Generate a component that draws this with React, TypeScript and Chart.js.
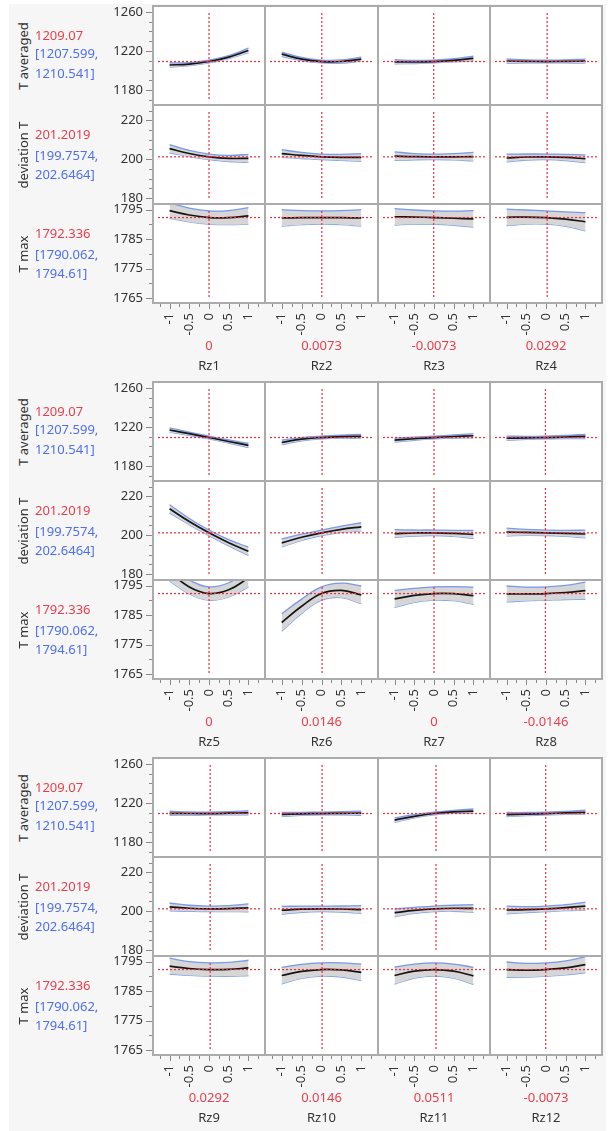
import React, { useEffect, useRef } from 'react';
import { Chart, registerables } from 'chart.js';

Chart.register(...registerables);

// ---------------- data ----------------
const factorNames = ['Rz1', 'Rz2', 'Rz3', 'Rz4', 'Rz5', 'Rz6', 'Rz7', 'Rz8', 'Rz9', 'Rz10', 'Rz11', 'Rz12'];
const factorSettings = [0, 0.0073, -0.0073, 0.0292, 0, 0.0146, 0, -0.0146, 0.0292, 0.0146, 0.0511, -0.0073];
const factorSettingLabels = ['0', '0.0073', '-0.0073', '0.0292', '0', '0.0146', '0', '-0.0146', '0.0292', '0.0146', '0.0511', '-0.0073'];

const responseNames = ['T averaged', 'deviation T', 'T max'];
const predictedValues = [1209.07, 201.2019, 1792.336];
const predictedLabels = ['1209.07', '201.2019', '1792.336'];
const intervalLowerLabels = ['[1207.599,', '[199.7574,', '[1790.062,'];
const intervalUpperLabels = ['1210.541]', '202.6464]', '1794.61]'];

const xGrid = [-1, -0.5, 0, 0.5, 1];
const xMajorTicks = [-1, -0.5, 0, 0.5, 1];
const xMinorTicks = [-1.25, -0.75, -0.25, 0.25, 0.75, 1.25];

const tAveragedMajorTicks = [1180, 1220, 1260];
const tAveragedMinorTicks = [1170, 1190, 1200, 1210, 1230, 1240, 1250];
const deviationMajorTicks = [180, 200, 220];
const deviationMinorTicks = [185, 190, 195, 205, 210, 215, 225];
const tMaxMajorTicks = [1765, 1775, 1785, 1795];
const tMaxMinorTicks = [1770, 1780, 1790];

// profile traces at x = -1, -0.5, 0, 0.5, 1 (one row per factor)
const tAveragedProfile = [
  [1205.5, 1206.4, 1209.07, 1213.6, 1220.4],
  [1216.6, 1211.6, 1209.07, 1209.1, 1211.5],
  [1208.8, 1208.6, 1209.07, 1210.3, 1212.3],
  [1209.6, 1209.2, 1209.07, 1209.2, 1209.5],
  [1216.8, 1213.0, 1209.07, 1205.0, 1201.0],
  [1204.0, 1207.4, 1209.07, 1210.0, 1210.3],
  [1206.4, 1207.8, 1209.07, 1210.1, 1210.9],
  [1208.4, 1208.7, 1209.07, 1209.6, 1210.2],
  [1209.3, 1209.1, 1209.07, 1209.4, 1209.8],
  [1208.2, 1208.7, 1209.07, 1209.3, 1209.4],
  [1202.3, 1206.2, 1209.07, 1210.8, 1211.5],
  [1208.0, 1208.5, 1209.07, 1209.7, 1210.4],
];
const deviationProfile = [
  [205.4, 202.9, 201.2, 200.4, 200.4],
  [202.9, 201.9, 201.2, 200.9, 200.9],
  [201.6, 201.3, 201.2, 201.2, 201.3],
  [200.6, 201.1, 201.2, 200.9, 200.2],
  [213.6, 207.0, 201.2, 196.1, 191.7],
  [196.0, 198.9, 201.2, 203.0, 204.3],
  [200.8, 201.1, 201.2, 200.9, 200.4],
  [201.6, 201.4, 201.2, 200.9, 200.6],
  [202.2, 201.5, 201.2, 201.3, 201.7],
  [200.5, 201.0, 201.2, 201.1, 200.8],
  [199.2, 200.4, 201.2, 201.5, 201.4],
  [200.6, 200.8, 201.2, 201.8, 202.6],
];
const tMaxProfile = [
  [1794.7, 1793.2, 1792.34, 1792.3, 1792.9],
  [1792.2, 1792.3, 1792.34, 1792.3, 1792.2],
  [1792.6, 1792.5, 1792.34, 1792.1, 1791.9],
  [1792.4, 1792.5, 1792.34, 1791.8, 1790.9],
  [1799.6, 1794.6, 1792.34, 1793.6, 1797.6],
  [1782.5, 1788.0, 1792.34, 1793.4, 1791.9],
  [1790.5, 1791.7, 1792.34, 1792.3, 1791.6],
  [1792.2, 1792.2, 1792.34, 1792.7, 1793.3],
  [1793.5, 1792.7, 1792.34, 1792.4, 1792.9],
  [1790.3, 1791.7, 1792.34, 1792.2, 1791.4],
  [1790.3, 1791.8, 1792.34, 1791.8, 1790.2],
  [1792.3, 1792.1, 1792.34, 1792.9, 1794.0],
];

// confidence half widths at the same x positions
const tAveragedHalfWidth = [
  [2.2, 1.6, 1.47, 1.65, 2.3],
  [2.2, 1.6, 1.47, 1.6, 2.1],
  [2.1, 1.6, 1.47, 1.6, 2.2],
  [2.1, 1.6, 1.47, 1.6, 2.1],
  [2.2, 1.6, 1.47, 1.6, 2.2],
  [2.3, 1.65, 1.47, 1.6, 2.1],
  [2.1, 1.6, 1.47, 1.6, 2.1],
  [2.1, 1.6, 1.47, 1.6, 2.2],
  [2.1, 1.6, 1.47, 1.6, 2.1],
  [2.1, 1.6, 1.47, 1.6, 2.1],
  [2.3, 1.65, 1.47, 1.6, 2.2],
  [2.1, 1.6, 1.47, 1.6, 2.2],
];
const deviationHalfWidth = [
  [2.1, 1.6, 1.44, 1.6, 2.1],
  [2.0, 1.55, 1.44, 1.55, 2.0],
  [2.2, 1.6, 1.44, 1.6, 2.2],
  [2.0, 1.55, 1.44, 1.6, 2.0],
  [2.1, 1.6, 1.44, 1.6, 2.1],
  [2.1, 1.6, 1.44, 1.6, 2.1],
  [2.0, 1.55, 1.44, 1.55, 2.0],
  [2.0, 1.55, 1.44, 1.55, 2.0],
  [2.0, 1.55, 1.44, 1.55, 2.0],
  [2.0, 1.55, 1.44, 1.55, 2.0],
  [2.0, 1.55, 1.44, 1.55, 2.0],
  [2.0, 1.55, 1.44, 1.55, 2.1],
];
const tMaxHalfWidth = [
  [2.6, 2.35, 2.27, 2.4, 2.8],
  [2.8, 2.4, 2.27, 2.4, 2.8],
  [2.8, 2.4, 2.27, 2.4, 2.8],
  [2.8, 2.4, 2.27, 2.45, 3.1],
  [3.0, 2.4, 2.27, 2.4, 3.0],
  [3.0, 2.45, 2.27, 2.45, 3.0],
  [2.9, 2.4, 2.27, 2.4, 2.9],
  [2.7, 2.35, 2.27, 2.4, 2.9],
  [2.7, 2.35, 2.27, 2.35, 2.6],
  [2.8, 2.4, 2.27, 2.4, 2.8],
  [2.9, 2.4, 2.27, 2.4, 2.9],
  [2.6, 2.35, 2.27, 2.4, 2.7],
];

// ---------------- config / layout ----------------
const profiles = [tAveragedProfile, deviationProfile, tMaxProfile];
const halfWidths = [tAveragedHalfWidth, deviationHalfWidth, tMaxHalfWidth];
const yMajors = [tAveragedMajorTicks, deviationMajorTicks, tMaxMajorTicks];
const yMinors = [tAveragedMinorTicks, deviationMinorTicks, tMaxMinorTicks];
const Y_RANGES = [[1164.5, 1266], [176.9, 227.9], [1763.3, 1796.94]];
const X_RANGE = [-1.42, 1.42];

const COL_EDGES = [153, 265, 378, 490, 602];
const BLOCK_TOPS = [6, 382, 758];
const ROW_H = 99;
const PAD = 6;
const YW = 80;
const XH = 40;

const FONT = '"Noto Sans", "DejaVu Sans", sans-serif';
const TEXT = '#333333';
const RED_TEXT = '#ec3d4c';
const BLUE_TEXT = '#4d6ff0';
const RED_LINE = '#ee2b3a';
const FRAME = '#ababab';
const TICK = '#8a8a8a';
const BAND = '#d6d6d6';
const BAND_EDGE = 'rgba(100,140,235,0.85)';

Chart.defaults.font.family = FONT;
Chart.defaults.font.size = 13;
Chart.defaults.color = TEXT;

function Cell({ b, r, c }: { b: number; r: number; c: number }) {
  const ref = useRef<HTMLCanvasElement | null>(null);
  const f = b * 4 + c;
  const colW = COL_EDGES[c + 1] - COL_EDGES[c];
  const left = COL_EDGES[c] - PAD - (c === 0 ? YW : 0);
  const top = BLOCK_TOPS[b] + r * ROW_H - PAD;
  const w = colW + 2 * PAD + (c === 0 ? YW : 0);
  const h = ROW_H + 2 * PAD + (r === 2 ? XH : 0);

  useEffect(() => {
    const canvas = ref.current;
    if (!canvas) return;
    const mean = profiles[r][f];
    const hw = halfWidths[r][f];
    const meanPts = xGrid.map((x, i) => ({ x, y: mean[i] }));
    const upPts = xGrid.map((x, i) => ({ x, y: mean[i] + hw[i] }));
    const loPts = xGrid.map((x, i) => ({ x, y: mean[i] - hw[i] }));
    const yMaj = yMajors[r];
    const yMin = yMinors[r];
    const yTicks = [...yMaj, ...yMin].sort((a, z) => a - z);
    const xTicks = [...xMajorTicks, ...xMinorTicks].sort((a, z) => a - z);
    const showX = r === 2;
    const showY = c === 0;

    const decor = {
      id: 'cellDecor',
      beforeDraw(chart: any) {
        const { ctx, chartArea: a } = chart;
        ctx.save();
        ctx.fillStyle = '#ffffff';
        ctx.fillRect(a.left, a.top, a.right - a.left, a.bottom - a.top);
        ctx.restore();
      },
      afterDatasetsDraw(chart: any) {
        const { ctx, chartArea: a, scales } = chart;
        const px = scales.x.getPixelForValue(factorSettings[f]);
        const py = scales.y.getPixelForValue(predictedValues[r]);
        ctx.save();
        ctx.strokeStyle = RED_LINE;
        ctx.lineWidth = 1.2;
        ctx.setLineDash([2, 2]);
        ctx.beginPath();
        ctx.moveTo(px, a.top + 7);
        ctx.lineTo(px, a.bottom - 5);
        ctx.stroke();
        ctx.beginPath();
        ctx.moveTo(a.left + 5, py);
        ctx.lineTo(a.right - 5, py);
        ctx.stroke();
        ctx.restore();
      },
      afterDraw(chart: any) {
        const { ctx, chartArea: a, scales } = chart;
        ctx.save();
        ctx.strokeStyle = FRAME;
        ctx.lineWidth = 1;
        ctx.strokeRect(a.left + 0.5, a.top + 0.5, a.right - a.left - 1, a.bottom - a.top - 1);
        ctx.beginPath();
        if (c === 0) { ctx.moveTo(a.left - 0.5, a.top - 1); ctx.lineTo(a.left - 0.5, a.bottom + 1); }
        if (c === 3) { ctx.moveTo(a.right + 0.5, a.top - 1); ctx.lineTo(a.right + 0.5, a.bottom + 1); }
        if (r === 0) { ctx.moveTo(a.left - 1, a.top - 0.5); ctx.lineTo(a.right + 1, a.top - 0.5); }
        if (r === 2) { ctx.moveTo(a.left - 1, a.bottom + 0.5); ctx.lineTo(a.right + 1, a.bottom + 0.5); }
        ctx.stroke();
        ctx.strokeStyle = TICK;
        ctx.beginPath();
        if (showY) {
          yTicks.forEach((v) => {
            const py = Math.round(scales.y.getPixelForValue(v)) + 0.5;
            const len = yMaj.includes(v) ? 6 : 3;
            ctx.moveTo(a.left - 1 - len, py);
            ctx.lineTo(a.left - 1, py);
          });
        }
        if (showX) {
          xTicks.forEach((v) => {
            const px = Math.round(scales.x.getPixelForValue(v)) + 0.5;
            const len = xMajorTicks.includes(v) ? 5 : 3;
            ctx.moveTo(px, a.bottom + 1);
            ctx.lineTo(px, a.bottom + 1 + len);
          });
        }
        ctx.stroke();
        ctx.restore();
      },
    };

    const lineBase = { pointRadius: 0, tension: 0.4, clip: 0 as any };
    const chart = new Chart(canvas, {
      type: 'line',
      data: {
        datasets: [
          { ...lineBase, order: 1, data: upPts, borderColor: BAND_EDGE, borderWidth: 1.3, backgroundColor: BAND, fill: '+1' },
          { ...lineBase, order: 2, data: loPts, borderColor: BAND_EDGE, borderWidth: 1.3, fill: false },
          { ...lineBase, order: 0, data: meanPts, borderColor: '#151515', borderWidth: 1.7, fill: false },
        ],
      },
      options: {
        responsive: false,
        animation: false,
        events: [],
        layout: { padding: { left: PAD, right: PAD, top: PAD, bottom: PAD } },
        plugins: { legend: { display: false }, tooltip: { enabled: false }, title: { display: false } },
        scales: {
          x: {
            type: 'linear',
            min: X_RANGE[0],
            max: X_RANGE[1],
            display: showX,
            afterBuildTicks: (s: any) => { s.ticks = xTicks.map((v) => ({ value: v })); },
            afterFit: (s: any) => { s.height = showX ? XH : 0; s.paddingLeft = 0; s.paddingRight = 0; },
            grid: { drawOnChartArea: false, drawTicks: true, tickLength: 6, tickColor: 'rgba(0,0,0,0)' },
            border: { display: false },
            ticks: {
              autoSkip: false,
              minRotation: 90,
              maxRotation: 90,
              padding: 4,
              color: TEXT,
              font: { family: FONT, size: 13 },
              callback: (v: any) => (xMajorTicks.includes(Number(v)) ? String(v) : ''),
            },
          },
          y: {
            type: 'linear',
            min: Y_RANGES[r][0],
            max: Y_RANGES[r][1],
            display: showY,
            afterBuildTicks: (s: any) => { s.ticks = yTicks.map((v) => ({ value: v })); },
            afterFit: (s: any) => { s.width = showY ? YW : 0; s.paddingTop = 0; s.paddingBottom = 0; },
            grid: { drawOnChartArea: false, drawTicks: true, tickLength: 6, tickColor: 'rgba(0,0,0,0)' },
            border: { display: false },
            ticks: {
              autoSkip: false,
              padding: 4,
              color: TEXT,
              font: { family: FONT, size: 13 },
              callback: (v: any) => (yMaj.includes(Number(v)) ? String(v) : ''),
            },
          },
        },
      } as any,
      plugins: [decor],
    });
    return () => chart.destroy();
  }, [b, r, c, f]);

  return (
    <canvas
      ref={ref}
      width={w}
      height={h}
      style={{ position: 'absolute', left, top, width: w, height: h }}
    />
  );
}

const LABEL_OFFSETS = [
  [-21, -3, 17],
  [-20.5, 0.5, 19.5],
  [-20.5, 0.5, 19],
];

function BlockLabels({ b }: { b: number }) {
  const items: any[] = [];
  for (let r = 0; r < 3; r++) {
    const cy = BLOCK_TOPS[b] + r * ROW_H + ROW_H / 2;
    items.push(
      <div
        key={'n' + r}
        style={{
          position: 'absolute', left: 22.5, top: cy, transform: 'translate(-50%,-50%) rotate(-90deg)',
          whiteSpace: 'nowrap', color: TEXT, fontSize: 13, lineHeight: '16px', fontFamily: FONT,
        }}
      >
        {responseNames[r]}
      </div>
    );
    const texts = [predictedLabels[r], intervalLowerLabels[r], intervalUpperLabels[r]];
    const colors = [RED_TEXT, BLUE_TEXT, BLUE_TEXT];
    texts.forEach((t, i) => {
      items.push(
        <div
          key={'v' + r + '-' + i}
          style={{
            position: 'absolute', left: 35, top: cy + LABEL_OFFSETS[r][i] - 10, height: 20,
            lineHeight: '20px', whiteSpace: 'nowrap', color: colors[i], fontSize: 13, fontFamily: FONT,
          }}
        >
          {t}
        </div>
      );
    });
  }
  const bottom = BLOCK_TOPS[b] + 3 * ROW_H;
  for (let c = 0; c < 4; c++) {
    const f = b * 4 + c;
    const cx = (COL_EDGES[c] + COL_EDGES[c + 1]) / 2;
    items.push(
      <div
        key={'s' + c}
        style={{
          position: 'absolute', left: cx, top: bottom + 42 - 10, height: 20, lineHeight: '20px',
          transform: 'translateX(-50%)', whiteSpace: 'nowrap', color: RED_TEXT, fontSize: 13, fontFamily: FONT,
        }}
      >
        {factorSettingLabels[f]}
      </div>
    );
    items.push(
      <div
        key={'f' + c}
        style={{
          position: 'absolute', left: cx, top: bottom + 62 - 10, height: 20, lineHeight: '20px',
          transform: 'translateX(-50%)', whiteSpace: 'nowrap', color: TEXT, fontSize: 13, fontFamily: FONT,
        }}
      >
        {factorNames[f]}
      </div>
    );
  }
  return <>{items}</>;
}

export default function App() {
  const cells: any[] = [];
  for (let b = 0; b < 3; b++) {
    for (let r = 0; r < 3; r++) {
      for (let c = 0; c < 4; c++) {
        cells.push(<Cell key={`${b}-${r}-${c}`} b={b} r={r} c={c} />);
      }
    }
  }
  return (
    <div style={{ position: 'absolute', left: 0, top: 0, width: 608, height: 1131, overflow: 'hidden', background: '#ffffff' }}>
      <div style={{ position: 'absolute', left: 9, top: 4, width: 597, height: 1127, background: '#f6f6f6' }} />
      {cells}
      <BlockLabels b={0} />
      <BlockLabels b={1} />
      <BlockLabels b={2} />
    </div>
  );
}
